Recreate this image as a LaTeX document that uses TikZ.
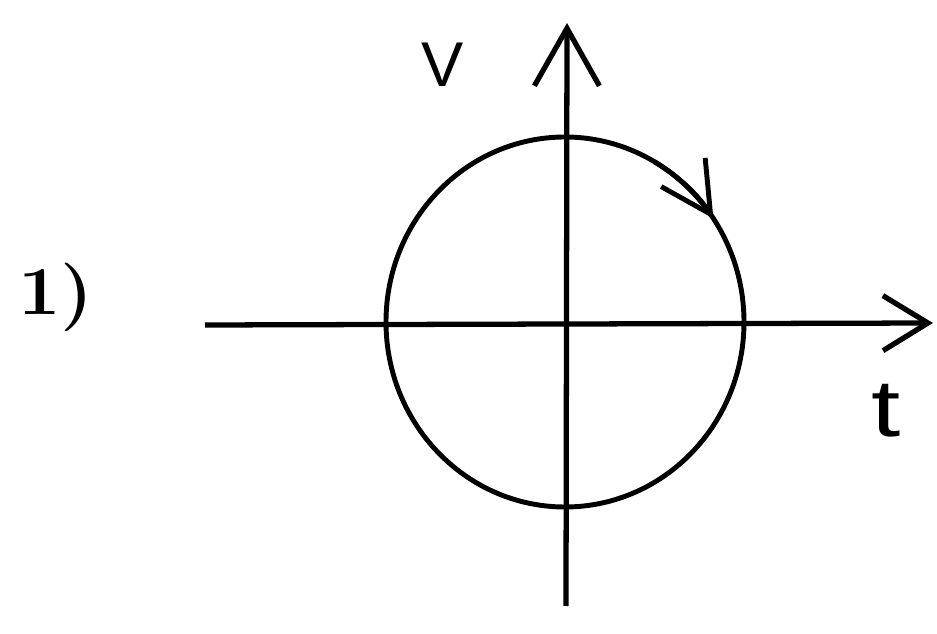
\documentclass[tikz,border=0pt]{standalone}
\usepackage{fontspec}
\newfontfamily\handfont{Liberation Sans}
\usetikzlibrary{arrows.meta,positioning}

\begin{document}
\begin{tikzpicture}[x=0.02cm,y=-0.02cm,line width=2.8pt,
    axisline/.style={line width=3pt},
    axislabel/.style={inner sep=0pt}]
  \useasboundingbox (0,0) rectangle (937,634);
  % axes
  \coordinate (tl) at (205,325);
  \coordinate (tr) at (933,323);
  \coordinate (vb) at (566,606);
  \coordinate (vt) at (567,23);
  \draw[axisline,-{Straight Barb[length=0.9cm,width=1.1cm]}] (tl) -- (tr);
  \draw[axisline,-{Straight Barb[length=1.15cm,width=1.3cm]}] (vb) -- (vt);
  % phase curve
  \coordinate (o) at (565,322);
  \draw (o) ellipse [x radius=179,y radius=-185];
  \draw[-{Straight Barb[length=1cm,width=1.05cm]}] ([shift={(60:179 and -185)}]o) arc [start angle=60,end angle=34,x radius=179,y radius=-185];
  % labels
  \node[axislabel] (vlabel) at (443,65) {\handfont\fontsize{36}{40}\selectfont V};
  \node[axislabel] (tlabel) at (886,411) {\handfont\fontsize{46}{50}\selectfont\scalebox{1.3}[1]{t}};
  \node[axislabel] (num) at (56,297) {\bfseries\fontsize{39}{44}\selectfont\scalebox{1.1}[1]{1)}};
\end{tikzpicture}
\end{document}
